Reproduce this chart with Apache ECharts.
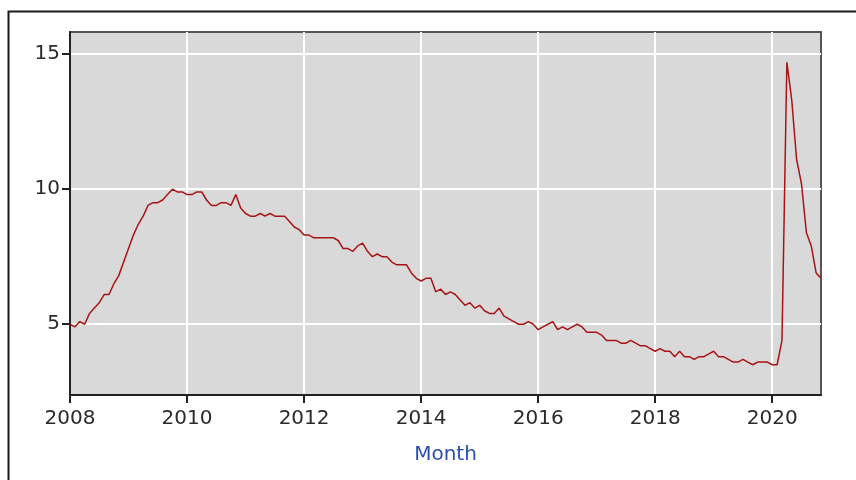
<!DOCTYPE html>
<html>
<head>
<meta charset="utf-8">
<script src="https://cdn.jsdelivr.net/npm/echarts@6/dist/echarts.min.js"></script>
<style>
html, body { margin: 0; padding: 0; background: #fff; }
#main { width: 856px; height: 480px; }
</style>
</head>
<body>
<div id="main"></div>
<script>
// monthly rate, one array per year
var y2008 = [5.0, 4.9, 5.1, 5.0, 5.4, 5.6, 5.8, 6.1, 6.1, 6.5, 6.8, 7.3];
var y2009 = [7.8, 8.3, 8.7, 9.0, 9.4, 9.5, 9.5, 9.6, 9.8, 10.0, 9.9, 9.9];
var y2010 = [9.8, 9.8, 9.9, 9.9, 9.6, 9.4, 9.4, 9.5, 9.5, 9.4, 9.8, 9.3];
var y2011 = [9.1, 9.0, 9.0, 9.1, 9.0, 9.1, 9.0, 9.0, 9.0, 8.8, 8.6, 8.5];
var y2012 = [8.3, 8.3, 8.2, 8.2, 8.2, 8.2, 8.2, 8.1, 7.8, 7.8, 7.7, 7.9];
var y2013 = [8.0, 7.7, 7.5, 7.6, 7.5, 7.5, 7.3, 7.2, 7.2, 7.2, 6.9, 6.7];
var y2014 = [6.6, 6.7, 6.7, 6.2, 6.3, 6.1, 6.2, 6.1, 5.9, 5.7, 5.8, 5.6];
var y2015 = [5.7, 5.5, 5.4, 5.4, 5.6, 5.3, 5.2, 5.1, 5.0, 5.0, 5.1, 5.0];
var y2016 = [4.8, 4.9, 5.0, 5.1, 4.8, 4.9, 4.8, 4.9, 5.0, 4.9, 4.7, 4.7];
var y2017 = [4.7, 4.6, 4.4, 4.4, 4.4, 4.3, 4.3, 4.4, 4.3, 4.2, 4.2, 4.1];
var y2018 = [4.0, 4.1, 4.0, 4.0, 3.8, 4.0, 3.8, 3.8, 3.7, 3.8, 3.8, 3.9];
var y2019 = [4.0, 3.8, 3.8, 3.7, 3.6, 3.6, 3.7, 3.6, 3.5, 3.6, 3.6, 3.6];
var y2020 = [3.5, 3.5, 4.4, 14.7, 13.3, 11.1, 10.2, 8.4, 7.9, 6.9, 6.7];

var years = [2008, 2009, 2010, 2011, 2012, 2013, 2014, 2015, 2016, 2017, 2018, 2019, 2020];
var byYear = [y2008, y2009, y2010, y2011, y2012, y2013, y2014, y2015, y2016, y2017, y2018, y2019, y2020];

var xTicks = [2008, 2010, 2012, 2014, 2016, 2018, 2020];
var yTicks = [5, 10, 15];

var data = [];
for (var i = 0; i < years.length; i++) {
    for (var m = 0; m < byYear[i].length; m++) {
        data.push([years[i] + m / 12, byYear[i][m]]);
    }
}
var lastX = data[data.length - 1][0];

var myChart = echarts.init(document.getElementById('main'));

var option = {
    animation: false,
    graphic: [
        {
            type: 'rect',
            left: 6,
            top: 9,
            shape: { width: 900, height: 500 },
            style: { fill: 'none', stroke: '#1a1a1a', lineWidth: 2 }
        }
    ],
    grid: {
        left: 70,
        top: 32,
        right: 35,
        bottom: 85,
        show: true,
        backgroundColor: '#d9d9d9',
        borderColor: '#555555',
        borderWidth: 2
    },
    xAxis: {
        type: 'value',
        min: 2008,
        max: lastX,
        name: 'Month',
        nameLocation: 'middle',
        nameGap: 50,
        nameTextStyle: {
            color: '#2a4fb0',
            fontSize: 20,
            fontFamily: 'DejaVu Sans'
        },
        axisLine: { lineStyle: { color: '#222', width: 2 } },
        axisTick: {
            show: true,
            length: 8,
            customValues: xTicks,
            lineStyle: { color: '#222', width: 2 }
        },
        axisLabel: {
            customValues: xTicks,
            formatter: function (v) { return String(Math.round(v)); },
            color: '#2a2a2a',
            fontSize: 20,
            fontFamily: 'DejaVu Sans',
            margin: 14
        },
        splitLine: { show: true, lineStyle: { color: '#ffffff', width: 2 } }
    },
    yAxis: {
        type: 'value',
        min: 2.38,
        max: 15.82,
        axisLine: { show: true, lineStyle: { color: '#222', width: 2 } },
        axisTick: {
            show: true,
            length: 8,
            customValues: yTicks,
            lineStyle: { color: '#222', width: 2 }
        },
        axisLabel: {
            customValues: yTicks,
            color: '#2a2a2a',
            fontSize: 20,
            fontFamily: 'DejaVu Sans',
            margin: 10
        },
        splitLine: { show: true, lineStyle: { color: '#ffffff', width: 2 } }
    },
    series: [
        {
            type: 'line',
            data: data,
            showSymbol: false,
            lineStyle: { color: '#a81414', width: 1.5 }
        }
    ]
};

myChart.setOption(option);
</script>
</body>
</html>
